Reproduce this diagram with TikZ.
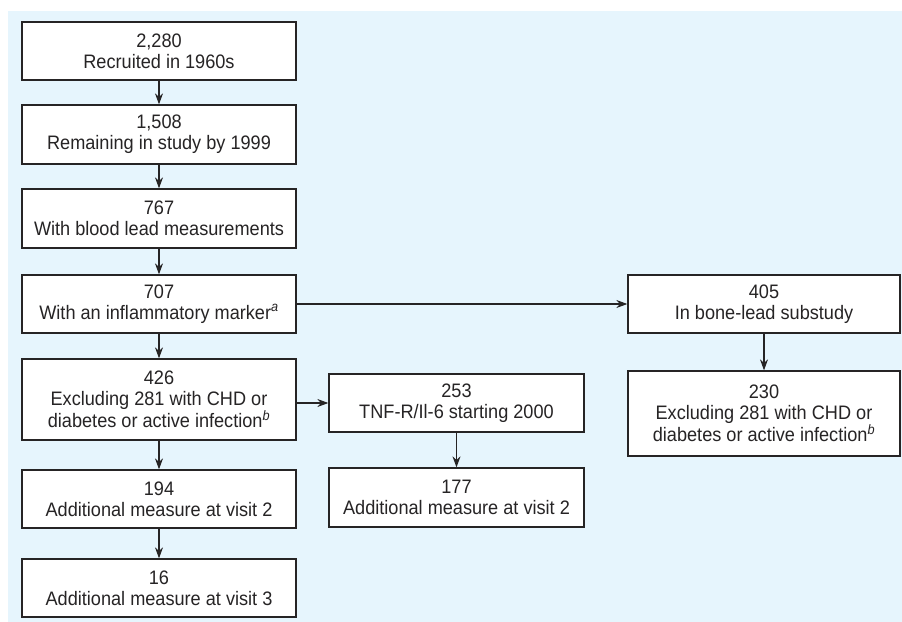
\documentclass[tikz,border=0pt]{standalone}
\usepackage{fontspec}
\setmainfont{Liberation Sans}[FakeStretch=0.93]
\usetikzlibrary{arrows.meta}
\definecolor{panelblue}{RGB}{230,245,253}
\definecolor{inkgray}{RGB}{38,36,37}
\tikzset{
  cohort/.style={draw=inkgray, line width=1.3bp, fill=white, text=inkgray,
    align=center, inner sep=0pt, font=\fontsize{19.5bp}{21bp}\selectfont},
  flow/.style={draw=inkgray, line width=1.2bp, -{Stealth[length=11bp,width=8bp]}}
}
\newcommand{\fnmark}[1]{\textsuperscript{\itshape #1}}
\begin{document}
\begin{tikzpicture}[x=1bp, y=-1bp]
		\useasboundingbox (0,0) rectangle (902,622);
		\fill[panelblue] (8,11) rectangle (902,622);
		%=========== left column, from top to bottom ===========================
		\node[cohort, minimum width=274bp, minimum height=58bp] (n2280) at (159,51) {2,280\\Recruited in 1960s};
		\node[cohort, minimum width=274bp, minimum height=59bp] (n1508) at (159,134.5) {1,508\\Remaining in study by 1999};
		\node[cohort, minimum width=274bp, minimum height=59bp] (n767) at (159,218.5) {767\\With blood lead measurements};
		\node[cohort, minimum width=274bp, minimum height=58bp] (n707) at (159,304) {707\\With an inflammatory marker\fnmark{a}};
		\node[cohort, minimum width=274bp, minimum height=81bp] (n426) at (159,399.5) {426\\Excluding 281 with CHD or\\diabetes or active infection\fnmark{b}};
		\node[cohort, minimum width=274bp, minimum height=58bp] (n194) at (159,499) {194\\Additional measure at visit 2};
		\node[cohort, minimum width=274bp, minimum height=58bp] (n16) at (159,588) {16\\Additional measure at visit 3};
		%=========== middle column ===========================
		\node[cohort, minimum width=255bp, minimum height=58bp] (n253) at (456.5,403) {253\\TNF-R/Il-6 starting 2000};
		\node[cohort, minimum width=255bp, minimum height=59bp] (n177) at (456.5,497.5) {177\\Additional measure at visit 2};
		%=========== right column ===========================
		\node[cohort, minimum width=272bp, minimum height=58bp] (n405) at (764,304) {405\\In bone-lead substudy};
		\node[cohort, minimum width=272bp, minimum height=85bp] (n230) at (764,413.5) {230\\Excluding 281 with CHD or\\diabetes or active infection\fnmark{b}};
		%=========== arrows ===========================
		\draw[flow] (n2280) -- (n1508);
		\draw[flow] (n1508) -- (n767);
		\draw[flow] (n767) -- (n707);
		\draw[flow] (n707) -- (n426);
		\draw[flow] (n426) -- (n194);
		\draw[flow] (n194) -- (n16);
		\draw[flow] (n707) -- (n405);
		\draw[flow] (n426.east |- n253.west) -- (n253.west);
		\draw[flow] (n253) -- (n177);
		\draw[flow] (n405) -- (n230);
	\end{tikzpicture}
\end{document}
